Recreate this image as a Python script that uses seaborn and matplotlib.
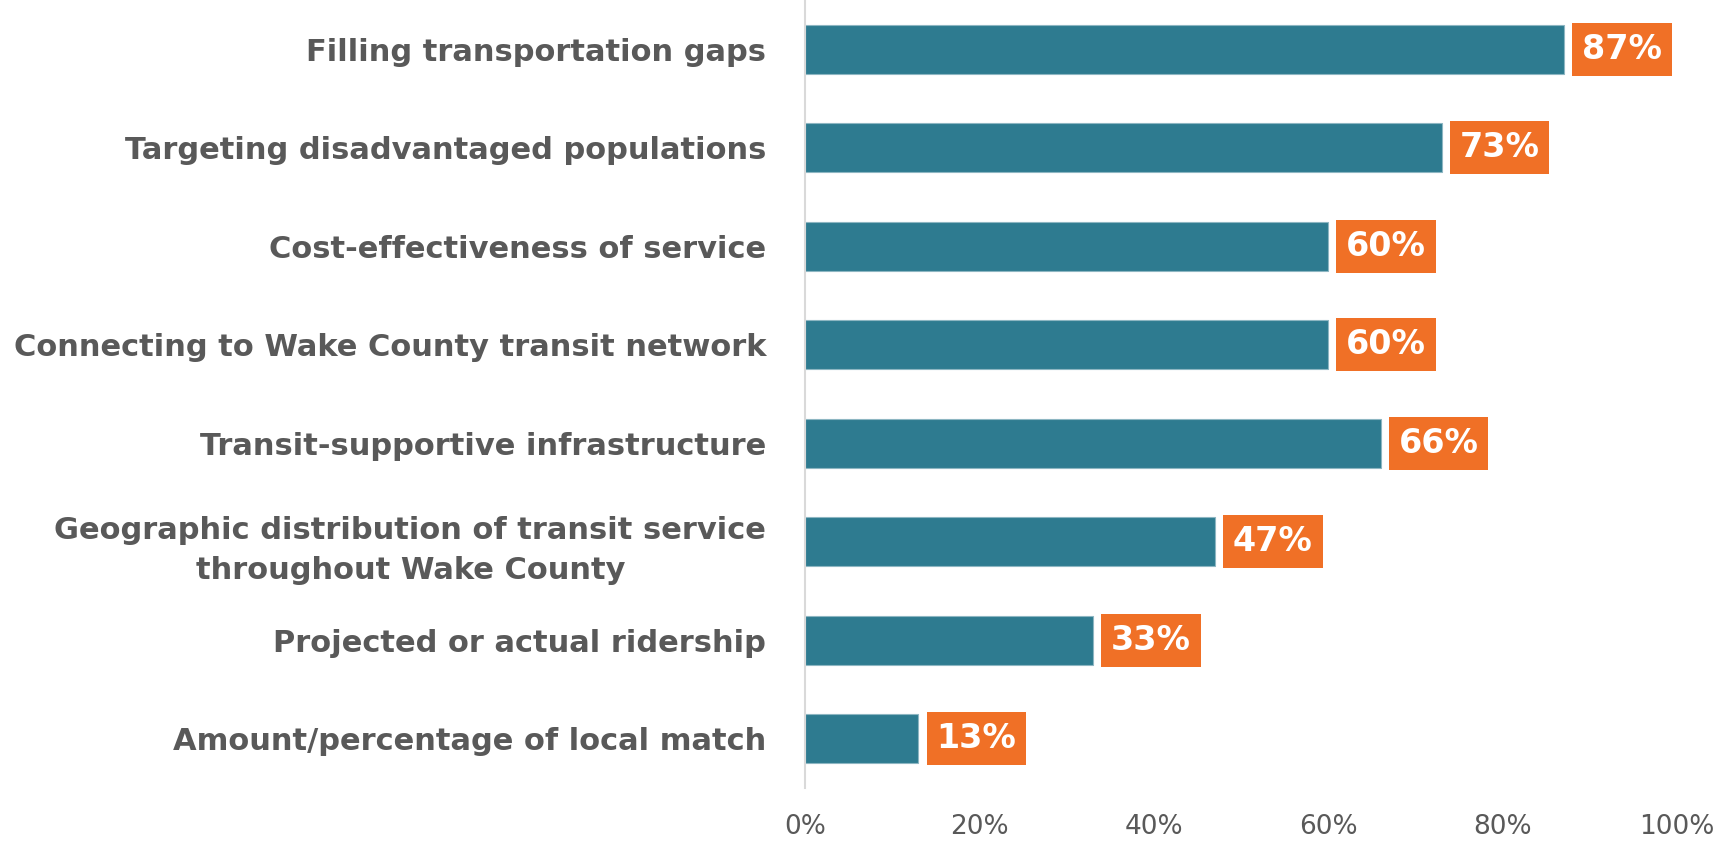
import matplotlib
matplotlib.use("Agg")
import matplotlib.pyplot as plt
import seaborn as sns
import pandas as pd

# Data
categories = [
    "Filling transportation gaps",
    "Targeting disadvantaged populations",
    "Cost-effectiveness of service",
    "Connecting to Wake County transit network",
    "Transit-supportive infrastructure",
    "Geographic distribution of transit service\nthroughout Wake County",
    "Projected or actual ridership",
    "Amount/percentage of local match",
]
shares = [87, 73, 60, 60, 66, 47, 33, 13]
xticks = [0, 20, 40, 60, 80, 100]

BAR = "#2E7B90"
ORANGE = "#F07026"
GREY = "#595959"

sns.set_style("white")
plt.rcParams['font.family'] = ['DejaVu Sans']

df = pd.DataFrame({"cat": categories, "share": shares})

fig = plt.figure(figsize=(17.24, 8.46), dpi=100)
ax = fig.add_axes([0.467, 0.0686, 0.5057, 0.9314])

sns.barplot(data=df, x="share", y="cat", orient="h", color=BAR, saturation=1,
            width=0.5, edgecolor="#8DB6C2", linewidth=0.8, ax=ax)

for i, v in enumerate(shares):
    ax.annotate(f"{v}%", xy=(v, i), xytext=(13, 0), textcoords="offset points",
                ha="left", va="center", color="white", fontsize=24, fontweight="bold",
                bbox=dict(boxstyle="square,pad=0.3", fc=ORANGE, ec="none"))

ax.set_xlim(0, 100)
ax.set_ylim(7.5, -0.5)
ax.set_xticks(xticks)
ax.set_xticklabels([f"{t}%" for t in xticks], fontsize=19, color=GREY)
ax.set_yticks(range(len(categories)))
ax.set_yticklabels(categories, fontsize=22, fontweight="bold", color=GREY,
                   linespacing=1.5)
for lab in ax.get_yticklabels():
    lab.set_multialignment("center")
ax.tick_params(axis="y", length=0, pad=28)
ax.tick_params(axis="x", length=0, pad=19)
ax.set_xlabel("")
ax.set_ylabel("")

for s in ["top", "right", "bottom"]:
    ax.spines[s].set_visible(False)
ax.spines["left"].set_color("#D9D9D9")
ax.spines["left"].set_linewidth(1.5)

fig.savefig("out.png", dpi=100)
